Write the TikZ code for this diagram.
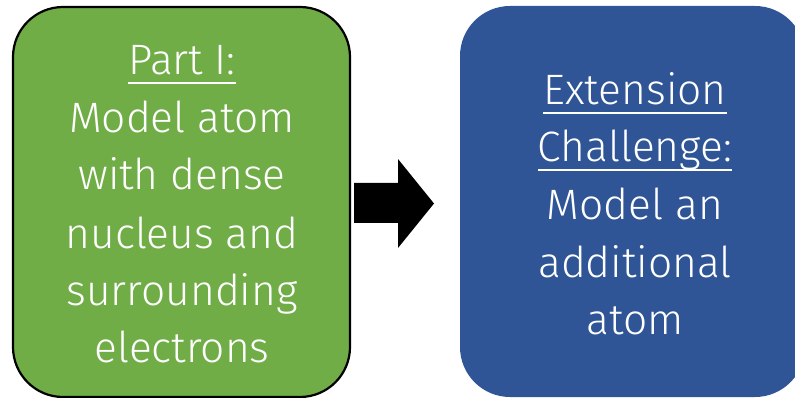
\documentclass[tikz,border=0pt]{standalone}
\usepackage{fontspec}
\setmainfont{Fira Sans}[UprightFont=* Light]
\definecolor{boxgreen}{RGB}{112,173,71}
\definecolor{boxblue}{RGB}{47,85,151}
\begin{document}
\begin{tikzpicture}[x=1pt,y=1pt,
  txt/.style={anchor=base,text=white,font=\fontsize{42.5}{50}\selectfont,inner sep=0pt},
  uline/.style={draw=white,line width=1.8pt}]
\useasboundingbox (0,0) rectangle (795,-398);
\clip (0,0) rectangle (795,-398);
% green box
\path[fill=boxgreen,draw=black,line width=2.2pt,rounded corners=50pt] (13,-7) rectangle (350,-397);
% blue box
\path[fill=boxblue,rounded corners=50pt] (460,-6) rectangle (805,-397);
% arrow
\path[fill=black] (354,-183) -- (398,-183) -- (398,-159) -- (434,-203.5) -- (398,-248) -- (398,-223) -- (354,-223) -- cycle;
% green text
\node[txt] (g1) at (182,-75) {Part I:};
\node[txt] (g2) at (182,-133) {Model atom};
\node[txt] (g3) at (182,-190) {with dense};
\node[txt] (g4) at (182,-248) {nucleus and};
\node[txt] (g5) at (182,-305) {surrounding};
\node[txt] (g6) at (182,-362) {electrons};
\draw[uline] ([yshift=-8pt]g1.base west) -- ([yshift=-8pt]g1.base east);
% blue text
\node[txt] (b1) at (635,-105) {Extension};
\node[txt] (b2) at (635,-162) {Challenge:};
\node[txt] (b3) at (635,-219) {Model an};
\node[txt] (b4) at (635,-277) {additional};
\node[txt] (b5) at (635,-334) {atom};
\draw[uline] ([yshift=-8pt]b1.base west) -- ([yshift=-8pt]b1.base east);
\draw[uline] ([yshift=-8pt]b2.base west) -- ([yshift=-8pt]b2.base east);
\end{tikzpicture}
\end{document}
